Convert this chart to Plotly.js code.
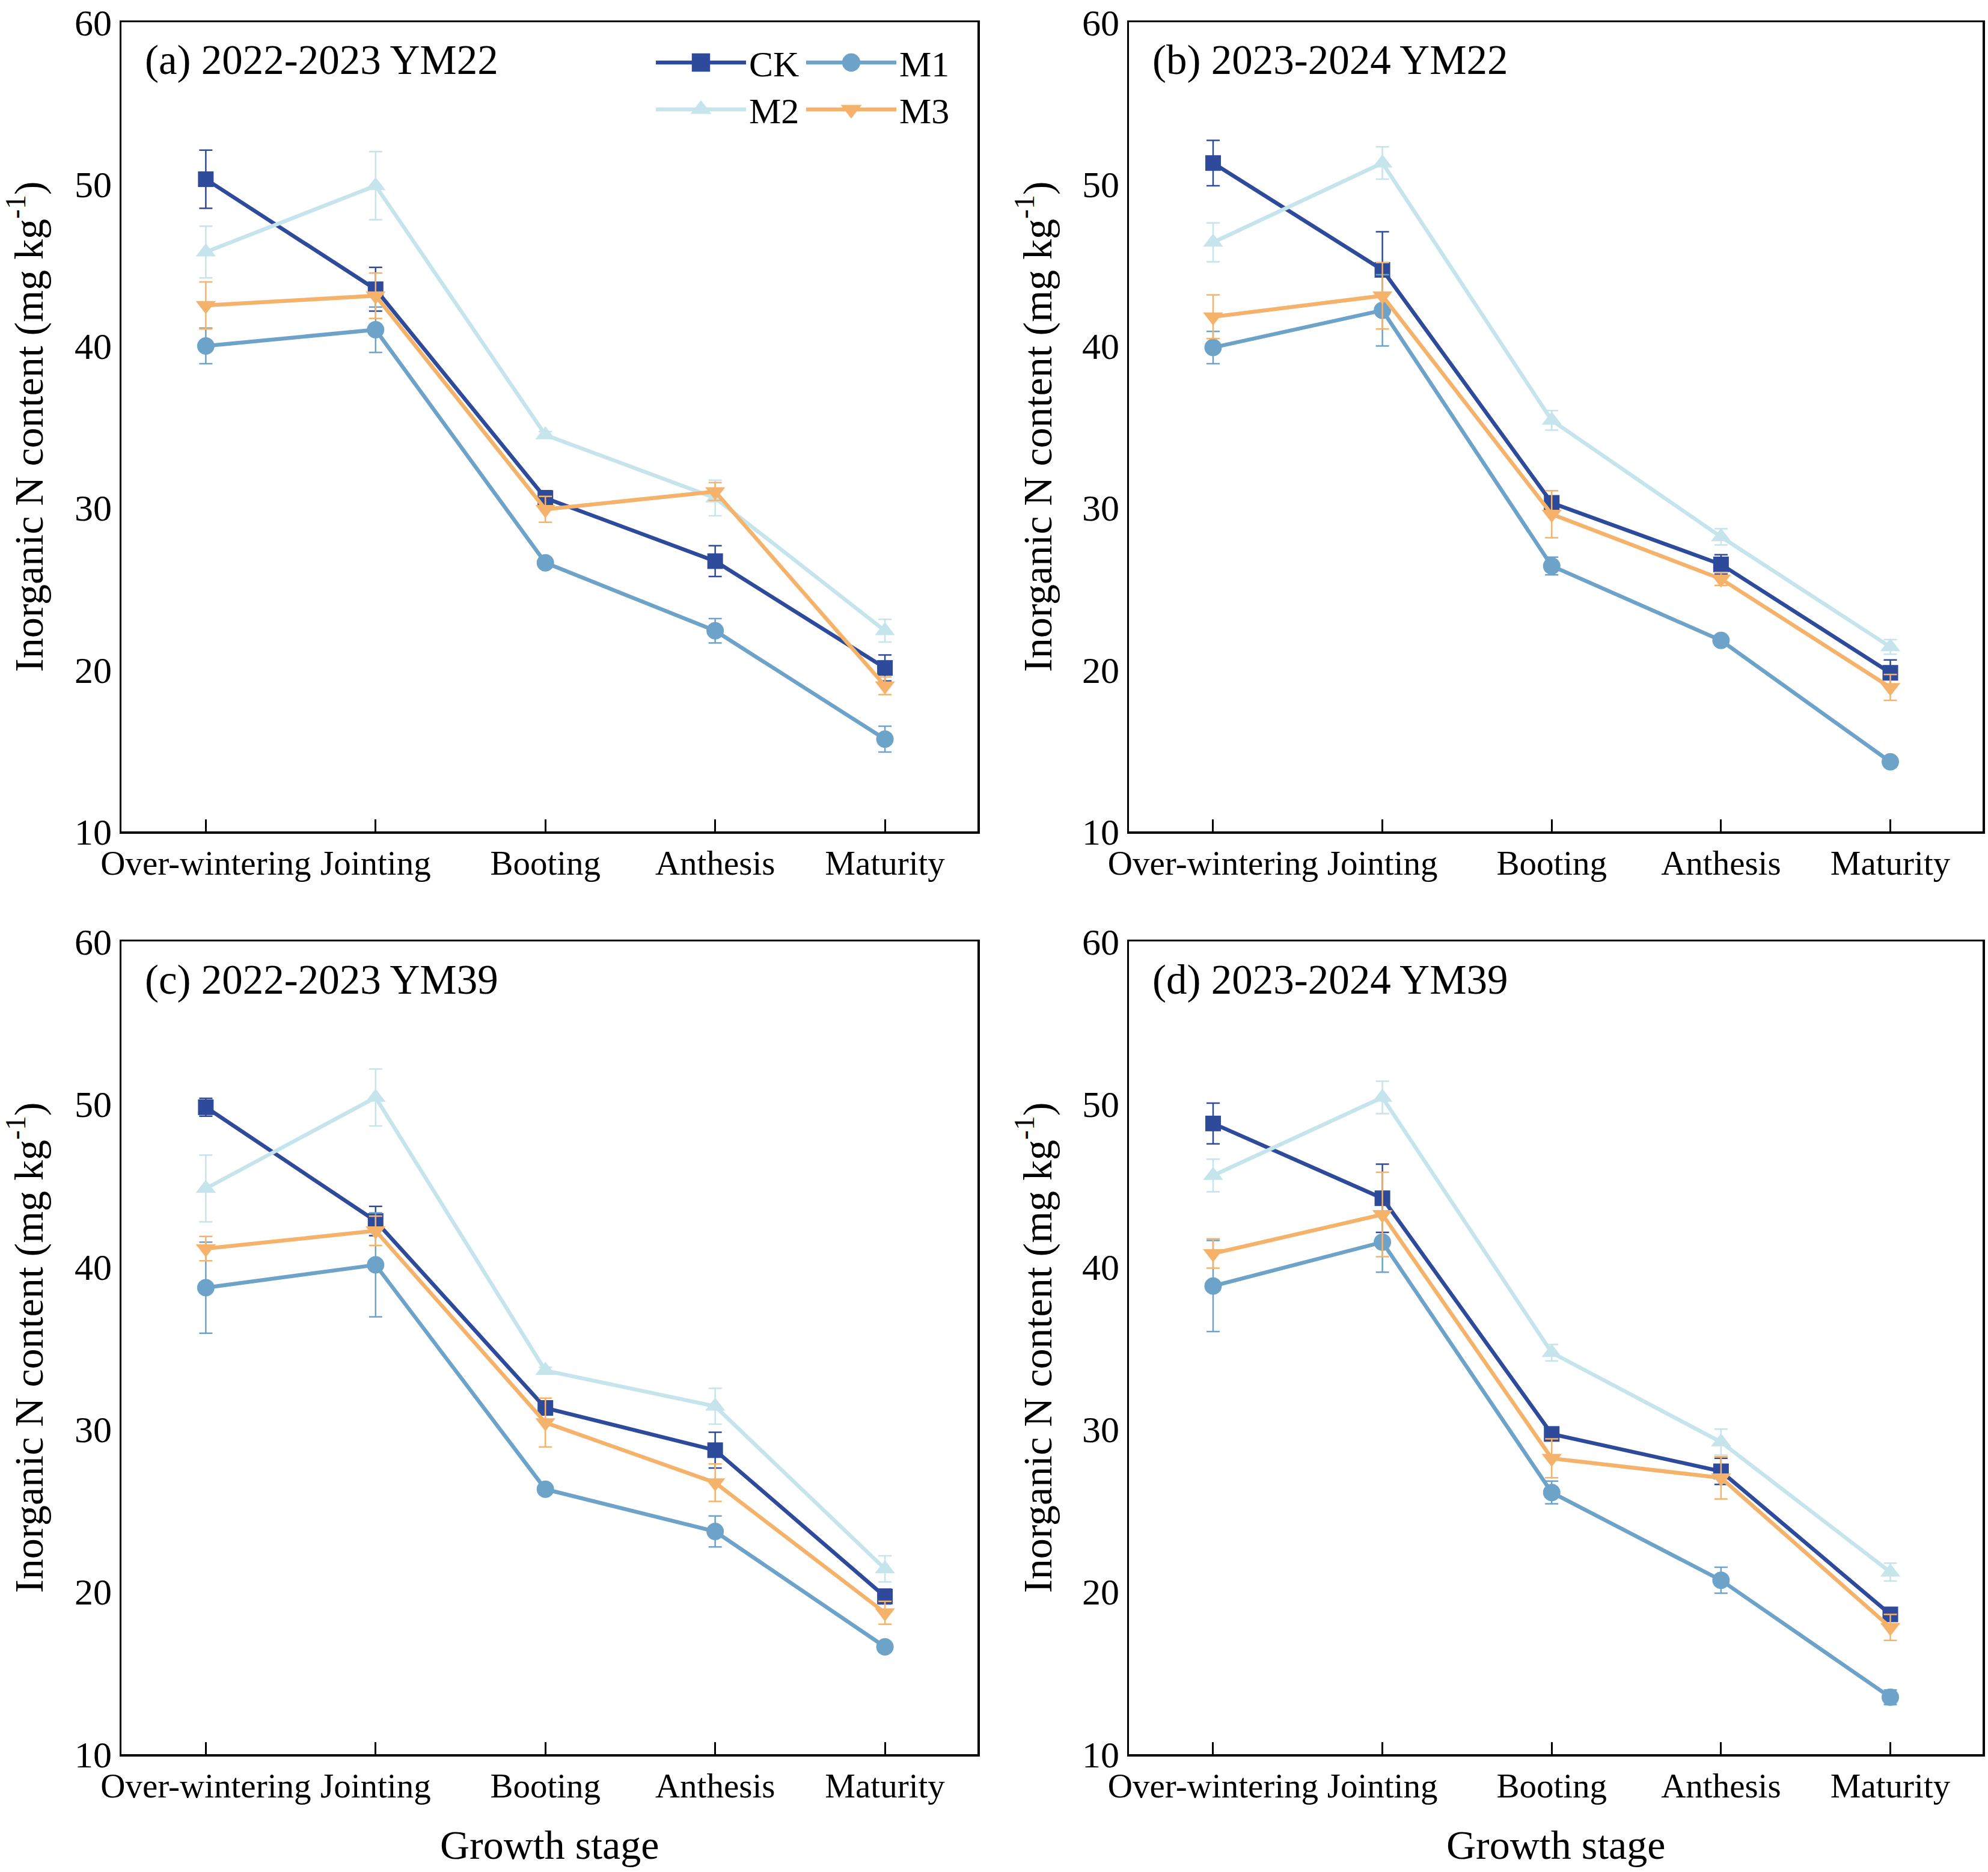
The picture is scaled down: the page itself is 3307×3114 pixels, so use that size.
<!DOCTYPE html>
<html><head><meta charset="utf-8">
<script src="https://cdn.plot.ly/plotly-3.0.1.min.js"></script>
<style>html,body{margin:0;padding:0;background:#fff}</style>
</head><body><div id="chart" style="width:3307px;height:3114px"></div>
<script>
const stages = ['Over-wintering', 'Jointing', 'Booting', 'Anthesis', 'Maturity'];
const treatments = ['CK', 'M1', 'M2', 'M3'];
const yTickVals = [10, 20, 30, 40, 50, 60];
const panelTitles = ['(a) 2022-2023 YM22', '(b) 2023-2024 YM22', '(c) 2022-2023 YM39', '(d) 2023-2024 YM39'];
const yTitle = 'Inorganic N content (mg kg<sup>-1</sup>)';
const xTitle = 'Growth stage';

// (a) 2022-2023 YM22
const ckA = [50.3, 43.5, 30.6, 26.7, 20.1];
const ckAErr = [1.8, 1.35, 0.45, 0.95, 0.8];
const m1A = [40.0, 41.0, 26.6, 22.4, 15.7];
const m1AErr = [1.1, 1.4, 0.3, 0.75, 0.8];
const m2A = [45.8, 49.9, 34.5, 30.6, 22.4];
const m2AErr = [1.6, 2.1, 0.2, 1.1, 0.7];
const m3A = [42.5, 43.1, 29.9, 31.0, 19.0];
const m3AErr = [1.45, 1.4, 0.8, 0.55, 0.55];

// (b) 2023-2024 YM22
const ckB = [51.3, 44.7, 30.3, 26.5, 19.8];
const ckBErr = [1.4, 2.35, 0.4, 0.6, 0.8];
const m1B = [39.9, 42.2, 26.4, 21.8, 14.3];
const m1BErr = [1.0, 2.2, 0.55, 0.3, 0.3];
const m2B = [46.4, 51.3, 35.4, 28.2, 21.4];
const m2BErr = [1.2, 1.0, 0.6, 0.5, 0.45];
const m3B = [41.8, 43.1, 29.6, 25.6, 18.9];
const m3BErr = [1.35, 2.05, 1.45, 0.4, 0.8];

// (c) 2022-2023 YM39
const ckC = [49.8, 42.8, 31.3, 28.7, 19.7];
const ckCErr = [0.55, 0.9, 0.3, 1.1, 0.45];
const m1C = [38.7, 40.1, 26.3, 23.7, 16.6];
const m1CErr = [2.8, 3.2, 0.2, 0.95, 0.2];
const m2C = [44.8, 50.4, 33.6, 31.4, 21.4];
const m2CErr = [2.05, 1.75, 0.2, 1.1, 0.8];
const m3C = [41.1, 42.2, 30.4, 26.7, 18.7];
const m3CErr = [0.75, 0.9, 1.5, 1.15, 0.7];

// (d) 2023-2024 YM39
const ckD = [48.8, 44.2, 29.7, 27.4, 18.6];
const ckDErr = [1.25, 2.1, 0.3, 0.8, 0.3];
const m1D = [38.8, 41.5, 26.1, 20.7, 13.5];
const m1DErr = [2.8, 1.85, 0.7, 0.8, 0.45];
const m2D = [45.6, 50.4, 34.7, 29.2, 21.2];
const m2DErr = [1.0, 1.0, 0.5, 0.8, 0.55];
const m3D = [40.8, 43.2, 28.2, 27.0, 17.8];
const m3DErr = [0.9, 2.6, 1.2, 1.3, 0.8];

const colors = ['#2E4A9B', '#6DA3C9', '#C6E4EB', '#F5B26B'];
const symbols = ['square', 'circle', 'triangle-up', 'triangle-down'];
const markerSizes = [26, 29, 29, 29];
const FONT = 'Liberation Serif, Times New Roman, serif';

const panels = [
  {vals: [ckA, m1A, m2A, m3A], errs: [ckAErr, m1AErr, m2AErr, m3AErr]},
  {vals: [ckB, m1B, m2B, m3B], errs: [ckBErr, m1BErr, m2BErr, m3BErr]},
  {vals: [ckC, m1C, m2C, m3C], errs: [ckCErr, m1CErr, m2CErr, m3CErr]},
  {vals: [ckD, m1D, m2D, m3D], errs: [ckDErr, m1DErr, m2DErr, m3DErr]}
];

const W = 3307, H = 3114;
const xDomains = [[202 / W, 1626 / W], [1878 / W, 3298 / W], [202 / W, 1626 / W], [1878 / W, 3298 / W]];
const yDomains = [[1 - 1383 / H, 1 - 37 / H], [1 - 1383 / H, 1 - 37 / H], [1 - 2918 / H, 1 - 1566 / H], [1 - 2918 / H, 1 - 1566 / H]];

const traces = [];
panels.forEach((p, pi) => {
  const sfx = pi === 0 ? '' : String(pi + 1);
  treatments.forEach((t, ti) => {
    traces.push({
      type: 'scatter', mode: 'lines+markers',
      x: stages, y: p.vals[ti],
      xaxis: 'x' + sfx, yaxis: 'y' + sfx,
      name: t,
      showlegend: pi === 0,
      legend: ti < 2 ? 'legend' : 'legend2',
      line: {color: colors[ti], width: 6.5},
      marker: {symbol: symbols[ti], size: markerSizes[ti], color: colors[ti], line: {width: 0}},
      error_y: {type: 'data', array: p.errs[ti], visible: true, color: colors[ti], thickness: 2.5, width: 11},
      cliponaxis: false
    });
  });
});

const legendBase = {
  orientation: 'h', xanchor: 'left', yanchor: 'middle',
  entrywidth: 85, entrywidthmode: 'pixels', itemwidth: 150,
  font: {family: FONT, size: 60, color: '#000'}, bgcolor: 'rgba(0,0,0,0)', borderwidth: 0
};

const layout = {
  width: W, height: H,
  margin: {l: 0, r: 0, t: 0, b: 0},
  paper_bgcolor: '#fff', plot_bgcolor: '#fff',
  font: {family: FONT, color: '#000', size: 57},
  annotations: [],
  legend: Object.assign({}, legendBase, {x: 1086 / W, y: 1 - 104 / H}),
  legend2: Object.assign({}, legendBase, {x: 1086 / W, y: 1 - 182 / H})
};

panels.forEach((p, pi) => {
  const sfx = pi === 0 ? '' : String(pi + 1);
  layout['xaxis' + sfx] = {
    domain: xDomains[pi], anchor: 'y' + sfx, type: 'category',
    categoryorder: 'array', categoryarray: stages,
    range: [-0.497, 4.545],
    showline: true, mirror: true, linecolor: '#000', linewidth: 3.5,
    ticks: 'inside', ticklen: 20, tickwidth: 3, tickcolor: '#000',
    tickfont: {family: FONT, size: 57, color: '#000'},
    showgrid: false, zeroline: false, fixedrange: true
  };
  layout['yaxis' + sfx] = {
    domain: yDomains[pi], anchor: 'x' + sfx,
    range: [10, 60], tickvals: yTickVals,
    ticklabeloverflow: 'allow',
    showline: true, mirror: true, linecolor: '#000', linewidth: 3.5,
    ticks: '', tickfont: {family: FONT, size: 62, color: '#000'},
    showgrid: false, zeroline: false, fixedrange: true
  };
  layout.annotations.push({
    text: panelTitles[pi], xref: 'x' + sfx + ' domain', yref: 'y' + sfx + ' domain',
    x: 0.026, y: 0.953, xanchor: 'left', yanchor: 'middle', showarrow: false,
    font: {family: FONT, size: 69, color: '#000'}
  });
  const xt = (pi % 2 === 0) ? 43 / W : (1878 - 157) / W;
  layout.annotations.push({
    text: yTitle, xref: 'paper', yref: 'paper', textangle: -90,
    x: xt, y: (yDomains[pi][0] + yDomains[pi][1]) / 2,
    xanchor: 'center', yanchor: 'middle', showarrow: false,
    font: {family: FONT, size: 68, color: '#000'}
  });
  if (pi >= 2) {
    layout.annotations.push({
      text: xTitle, xref: 'x' + sfx + ' domain', yref: 'paper',
      x: 0.5, y: 1 - 3069 / H, xanchor: 'center', yanchor: 'middle', showarrow: false,
      font: {family: FONT, size: 68, color: '#000'}
    });
  }
});

Plotly.newPlot('chart', traces, layout, {staticPlot: true, displayModeBar: false}).then(gd => {
  // enlarge the legend symbols to match the plotted marker size
  gd.querySelectorAll('.legendpoints path.scatterpts').forEach(el => {
    const tr = el.getAttribute('transform') || '';
    el.setAttribute('transform', tr + ' scale(1.9)');
  });
});
</script>
</body></html>
